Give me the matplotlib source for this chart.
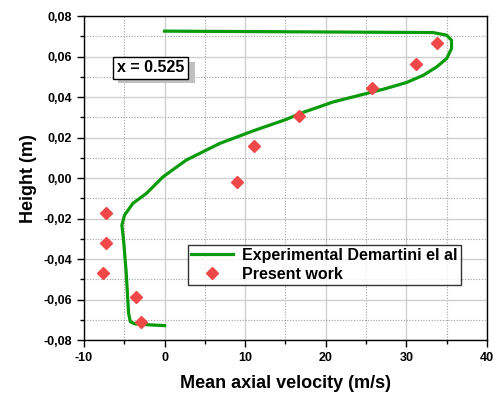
import matplotlib.pyplot as plt
from matplotlib.patches import Rectangle
from matplotlib.ticker import MultipleLocator, FuncFormatter

plt.rcParams['font.family'] = ['Liberation Sans', 'DejaVu Sans']
plt.rcParams['font.weight'] = 'bold'
plt.rcParams['axes.unicode_minus'] = False

# ── Data ──────────────────────────────────────────────────────────────────
# Experimental profile (Demartini et al.)
exp_u = [0.0, 33.3, 35.0, 35.6, 35.6, 35.0, 33.75, 32.1, 30.0, 27.5, 25.05,
         20.9, 16.8, 15.1, 10.97, 6.83, 2.69, -0.2, -2.27, -3.94, -4.97,
         -5.3, -5.09, -4.76, -4.47, -4.26, -3.73, -2.27, 0.0]
exp_h = [0.0726, 0.0719, 0.0706, 0.0681, 0.064, 0.0591, 0.0549, 0.0508,
         0.0472, 0.0443, 0.0418, 0.0376, 0.0319, 0.029, 0.0233, 0.0171,
         0.0089, 0.0006, -0.0076, -0.0125, -0.0183, -0.0232, -0.0306,
         -0.047, -0.0667, -0.0709, -0.072, -0.0724, -0.0729]

# Present work
sim_u = [33.75, 31.14, 25.7, 16.68, 11.14, 9.03, -7.33, -7.24, -7.66, -3.6, -2.9]
sim_h = [0.0668, 0.0566, 0.0445, 0.0309, 0.0159, -0.0021, -0.0171, -0.0322,
         -0.047, -0.0589, -0.0711]

# ── Figure ────────────────────────────────────────────────────────────────
fig = plt.figure(figsize=(4.95, 3.94), dpi=100)
ax = fig.add_axes([0.1697, 0.137, 0.8141, 0.822])

ax.plot(exp_u, exp_h, color='#0a9b0a', lw=2.3, solid_joinstyle='round',
        label='Experimental Demartini el al', zorder=3)
ax.plot(sim_u, sim_h, ls='none', marker='D', ms=6, color='#f04848',
        mec='#f04848', label='Present work', zorder=4)

ax.set_xlim(-10, 40)
ax.set_ylim(-0.08, 0.08)
ax.xaxis.set_major_locator(MultipleLocator(10))
ax.xaxis.set_minor_locator(MultipleLocator(5))
ax.yaxis.set_major_locator(MultipleLocator(0.02))
ax.yaxis.set_minor_locator(MultipleLocator(0.01))
ax.yaxis.set_major_formatter(FuncFormatter(lambda v, p: f'{v:.2f}'.replace('.', ',')))

ax.grid(which='major', color='#d0d0d0', lw=1.0, ls='-')
ax.grid(which='minor', color='#a0a0a0', lw=0.8, ls=(0, (1, 1.5)))
ax.set_axisbelow(True)

ax.tick_params(which='both', direction='out', labelsize=9, width=1.0)
ax.tick_params(which='major', length=5)
ax.tick_params(which='minor', length=3)
for lab in ax.get_xticklabels() + ax.get_yticklabels():
    lab.set_fontweight('bold')
for s in ax.spines.values():
    s.set_linewidth(1.0)

ax.set_xlabel('Mean axial velocity (m/s)', fontsize=13, fontweight='bold', labelpad=8)
ax.set_ylabel('Height (m)', fontsize=13, fontweight='bold', labelpad=5)

leg = ax.legend(loc='lower right', bbox_to_anchor=(0.935, 0.17), fontsize=11.5,
                frameon=True, fancybox=False, edgecolor='black',
                handlelength=2.6, borderpad=0.2, labelspacing=0.25,
                handletextpad=0.6, borderaxespad=0)
leg.get_frame().set_linewidth(1.0)
for t in leg.get_texts():
    t.set_fontweight('bold')

# shadowed text box
shadow = Rectangle((118, 394 - 83), 77, 21, transform=None,
                   facecolor='#c0c0c0', edgecolor='none', zorder=5)
ax.add_artist(shadow)
ax.text(-5.95, 0.0545, 'x = 0.525', fontsize=11.5, fontweight='bold', ha='left',
        va='center', zorder=6,
        bbox=dict(facecolor='white', edgecolor='black', lw=1.0, boxstyle='square,pad=0.22'))

fig.savefig('out.png', dpi=100, facecolor='white')
